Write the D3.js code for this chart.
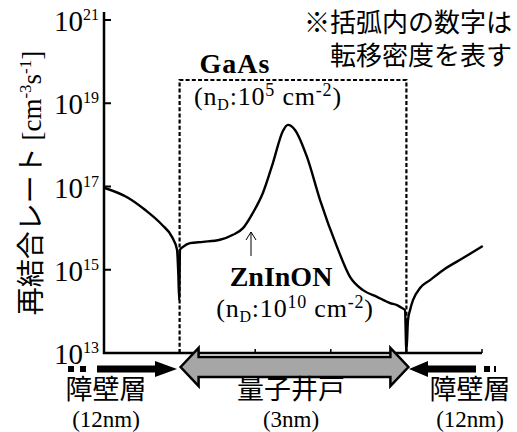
<!DOCTYPE html>
<html><head><meta charset="utf-8">
<script src="https://cdn.jsdelivr.net/npm/d3@7"></script>
<style>body{margin:0;background:#fff} svg{display:block}</style>
</head><body><svg id="c" width="517" height="432"></svg>
<script>
// position across the structure (nm, 0 = left edge of the quantum well)
const positionNm = [-1.0, -0.683, -0.458, -0.233, -0.101, -0.034, -0.017, -0.005,
  0.005, 0.045, 0.138, 0.31, 0.534, 0.706, 0.839, 0.97, 1.103, 1.235, 1.368, 1.434,
  1.526, 1.685, 1.857, 2.082, 2.254, 2.426, 2.611, 2.783, 2.876, 2.942, 2.981, 3.0,
  3.021, 3.048, 3.087, 3.18, 3.312, 3.484, 3.749, 4.01];
// log10 of recombination rate [cm^-3 s^-1]
const rateExp = [16.97, 16.73, 16.44, 16.08, 15.79, 15.48, 14.9, 14.27,
  15.48, 15.55, 15.64, 15.67, 15.72, 15.84, 16.0, 16.37, 16.85, 17.57, 18.34, 18.48,
  18.36, 17.71, 16.68, 15.55, 14.83, 14.51, 14.35, 14.2, 14.15, 14.08, 14.03, 13.03,
  13.79, 14.03, 14.27, 14.56, 14.75, 14.99, 15.28, 15.57];
const yTickExps = [13, 15, 17, 19, 21];
const xTicksNm = [-1, 0, 1, 2, 3, 4];

const svg = d3.select("#c");
const x = d3.scaleLinear().domain([-1, 4]).range([104, 482]);
const y = d3.scaleLog().domain([1e13, 1e21]).range([353, 20]);
const serif = "'Liberation Serif','Times New Roman',serif";
const cjk = "'Noto Sans CJK JP','Noto Sans CJK SC',sans-serif";

// dashed box (GaAs region)
const boxTop = 80;
svg.append("path")
  .attr("d", `M${x(0)},${y(1e13)}V${boxTop}H${x(3)}V${y(1e13)}`)
  .attr("fill", "none").attr("stroke", "#000").attr("stroke-width", 2.2)
  .attr("stroke-dasharray", "4,2.2");

// axes
svg.append("path")
  .attr("d", `M${x(-1)},12V${y(1e13)}H${x(4)}`)
  .attr("fill", "none").attr("stroke", "#000").attr("stroke-width", 2.5);
yTickExps.forEach(e => {
  svg.append("line").attr("x1", x(-1)).attr("x2", x(-1) + 7)
    .attr("y1", y(10 ** e)).attr("y2", y(10 ** e))
    .attr("stroke", "#000").attr("stroke-width", 2);
  const t = svg.append("text").attr("x", 99).attr("y", y(10 ** e) + 11)
    .attr("text-anchor", "end").attr("font-family", serif).attr("font-size", 29);
  t.append("tspan").text("10");
  t.append("tspan").attr("font-size", 16).attr("dy", -11).text(e);
});
xTicksNm.slice(1).forEach(v => {
  svg.append("line").attr("x1", x(v)).attr("x2", x(v))
    .attr("y1", y(1e13)).attr("y2", y(1e13) - 4)
    .attr("stroke", "#000").attr("stroke-width", 1.5);
});

// curve
const pts = positionNm.map((p, i) => [p, 10 ** rateExp[i]]);
svg.append("path").datum(pts)
  .attr("d", d3.line().x(d => x(d[0])).y(d => y(d[1])).curve(d3.curveMonotoneX))
  .attr("fill", "none").attr("stroke", "#000").attr("stroke-width", 2.4)
  .attr("stroke-linejoin", "round");

// small arrow pointing to ZnInON
svg.append("line").attr("x1", 251).attr("x2", 251).attr("y1", 256).attr("y2", 232)
  .attr("stroke", "#000").attr("stroke-width", 1);
svg.append("path").attr("d", "M246,240L251,232L256,240")
  .attr("fill", "none").attr("stroke", "#000").attr("stroke-width", 1);

// y-axis title
const yt = svg.append("text").attr("transform", "translate(41,183) rotate(-90)")
  .attr("text-anchor", "middle").attr("font-size", 28);
yt.append("tspan").attr("font-family", cjk).text("再結合レート");
yt.append("tspan").attr("font-family", serif).attr("font-size", 27).text(" [cm");
yt.append("tspan").attr("font-family", serif).attr("font-size", 17).attr("dy", -10).text("-3");
yt.append("tspan").attr("font-family", serif).attr("font-size", 27).attr("dy", 10).text("s");
yt.append("tspan").attr("font-family", serif).attr("font-size", 17).attr("dy", -10).text("-1");
yt.append("tspan").attr("font-family", serif).attr("font-size", 27).attr("dy", 10).text("]");

// note
svg.append("text").attr("x", 512).attr("y", 32).attr("text-anchor", "end")
  .attr("font-family", cjk).attr("font-size", 26).text("※括弧内の数字は");
svg.append("text").attr("x", 512).attr("y", 65).attr("text-anchor", "end")
  .attr("font-family", cjk).attr("font-size", 26).text("転移密度を表す");

function ndLabel(cx, cy, exp) {
  const t = svg.append("text").attr("x", cx).attr("y", cy).attr("text-anchor", "middle")
    .attr("font-family", serif).attr("font-size", 26).attr("letter-spacing", 0.8);
  t.append("tspan").text("(n");
  t.append("tspan").attr("font-size", 16).attr("dy", 5).text("D");
  t.append("tspan").attr("dy", -5).text(":10");
  t.append("tspan").attr("font-size", 18).attr("dy", -9).text(exp);
  t.append("tspan").attr("dy", 9).text(" cm");
  t.append("tspan").attr("font-size", 18).attr("dy", -9).text("-2");
  t.append("tspan").attr("dy", 9).text(")");
}
svg.append("text").attr("x", 235).attr("y", 73).attr("text-anchor", "middle")
  .attr("font-family", serif).attr("font-weight", "bold").attr("font-size", 28)
  .attr("letter-spacing", 1).text("GaAs");
ndLabel(268, 105, "5");
svg.append("text").attr("x", 281).attr("y", 286).attr("text-anchor", "middle")
  .attr("font-family", serif).attr("font-weight", "bold").attr("font-size", 28).text("ZnInON");
ndLabel(295, 317, "10");

// bottom arrows
const ay = 369;
// left black arrow
svg.append("rect").attr("x", 68).attr("y", ay - 3).attr("width", 6).attr("height", 6).attr("fill", "#000");
svg.append("rect").attr("x", 80).attr("y", ay - 3).attr("width", 6).attr("height", 6).attr("fill", "#000");
svg.append("path").attr("d", `M97,${ay-3.5}H155V${ay-8}L177,${ay}L155,${ay+8}V${ay+3.5}H97Z`).attr("fill", "#000");
// right black arrow
svg.append("rect").attr("x", 484).attr("y", ay - 3).attr("width", 6).attr("height", 6).attr("fill", "#000");
svg.append("rect").attr("x", 494).attr("y", ay - 3).attr("width", 2).attr("height", 6).attr("fill", "#000");
svg.append("path").attr("d", `M476,${ay-3.5}H428V${ay-8}L409,${ay}L428,${ay+8}V${ay+3.5}H476Z`).attr("fill", "#000");
// gray double arrow
const gy = 367, x0 = x(0) + 1, x1 = x(3) + 2;
svg.append("path")
  .attr("d", `M${x0},${gy}L${x0+18},${gy-19}V${gy-10}H${x1-18}V${gy-19}L${x1},${gy}L${x1-18},${gy+19}V${gy+10}H${x0+18}V${gy+19}Z`)
  .attr("fill", "#a6a6a6").attr("stroke", "#000").attr("stroke-width", 2.5).attr("stroke-linejoin", "miter");

// region labels
function region(cx, name, w, fs) {
  svg.append("text").attr("x", cx).attr("y", 399).attr("text-anchor", "middle")
    .attr("font-family", cjk).attr("font-size", fs).text(name);
  svg.append("text").attr("x", cx).attr("y", 427).attr("text-anchor", "middle")
    .attr("font-family", serif).attr("font-size", 23).text(w);
}
region(106, "障壁層", "(12nm)", 27);
region(291, "量子井戸", "(3nm)", 27);
region(470, "障壁層", "(12nm)", 27);
</script></body></html>
